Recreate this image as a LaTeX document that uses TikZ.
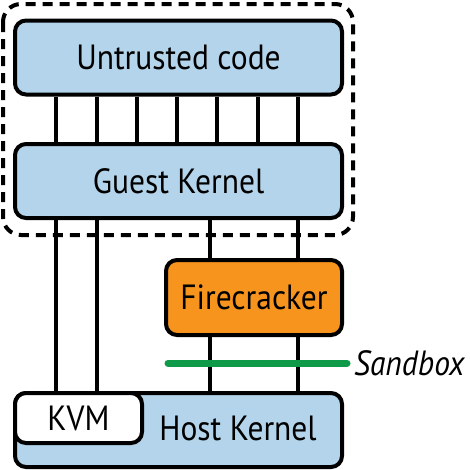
\documentclass[tikz,border=0pt]{standalone}
\usepackage{fontspec}
\setmainfont{PT Sans}[FakeStretch=0.9]
\usepackage{tikz}
\definecolor{boxblue}{HTML}{B3D4EA}
\definecolor{fireorange}{HTML}{F7941D}
\definecolor{sandgreen}{HTML}{0E9A48}

\tikzset{
  layer/.style={draw=black, line width=4pt, rounded corners=11pt, fill=boxblue,
    minimum width=327pt, minimum height=74pt, inner sep=0pt,
    font=\fontsize{35}{40}\selectfont},
  link/.style={line width=4pt},
}

\begin{document}
\begin{tikzpicture}[x=1pt,y=-1pt]
\path[use as bounding box] (0,0) rectangle (470,469);

% sandbox boundary
\draw[line width=4pt, dash pattern=on 10pt off 7pt, rounded corners=18pt] (3,4) rectangle (353,235);

\node[layer] (untrusted) at (178.5,57.5) {Untrusted code};
\node[layer] (guest) at (178.5,181) {Guest Kernel};
\node[layer, fill=fireorange, minimum width=176pt, minimum height=75pt] (fire) at (254,297.5) {Firecracker};
\node[layer, minimum height=74pt] (host) at (178.5,430) {};
\node[font=\fontsize{35}{40}\selectfont, anchor=center] (hostlabel) at (238,428) {Host Kernel};
\node[layer, fill=white, minimum width=127pt, minimum height=50pt, anchor=north west] (kvm) at (host.north west) {KVM};

\foreach \x in {56,97,137,177,217,258,298}
	\draw[link] (\x,0 |- untrusted.south) -- (\x,0 |- guest.north);

\foreach \x in {56,97}
	\draw[link] (\x,0 |- guest.south) -- (\x,0 |- kvm.north);

\foreach \x in {210,298} {
	\draw[link] (\x,0 |- guest.south) -- (\x,0 |- fire.north);
	\draw[link] (\x,0 |- fire.south) -- (\x,0 |- host.north);
}

\coordinate (sbl) at (168,363);
\coordinate (sbr) at (347,363);
\draw[sandgreen, line width=7pt, line cap=round] (sbl) -- (sbr);
\node[anchor=west, font=\fontsize{35}{40}\selectfont\itshape, inner sep=2pt] (sandbox) at (352,363) {Sandbox};

\end{tikzpicture}
\end{document}
